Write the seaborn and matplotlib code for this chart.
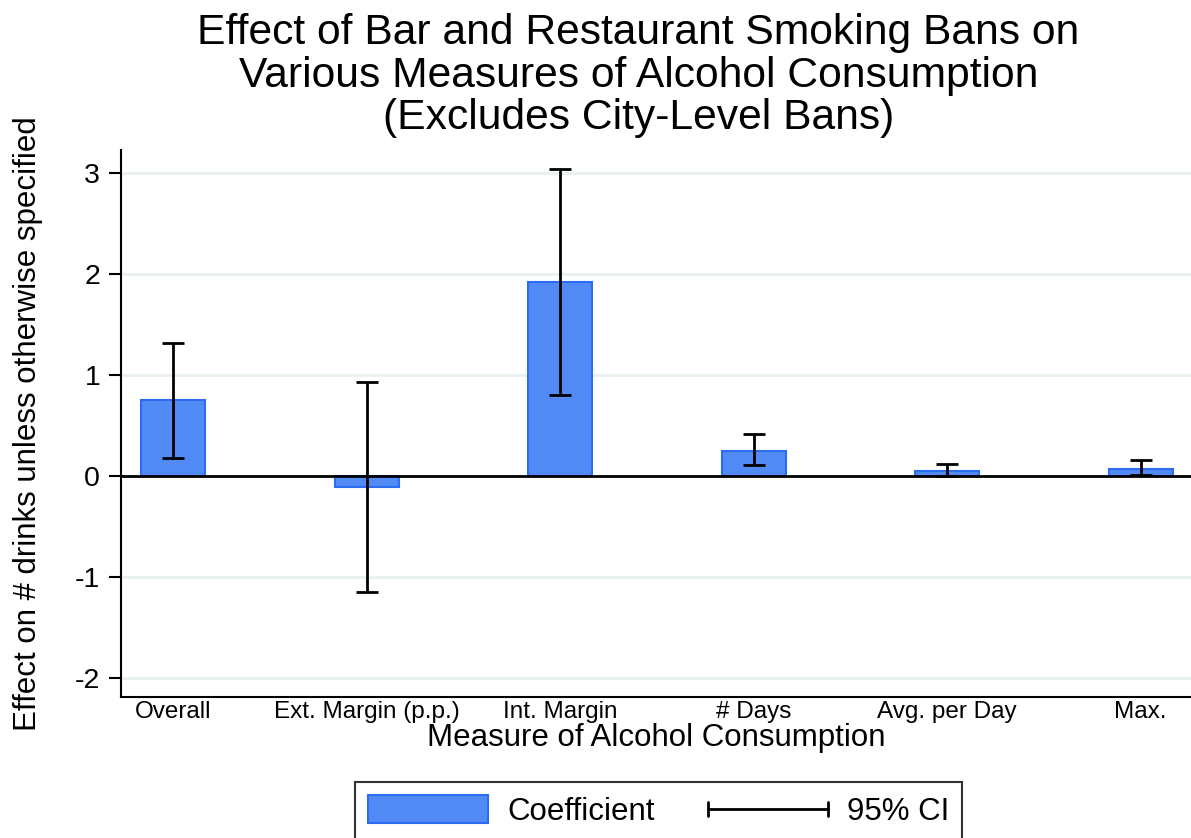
import matplotlib
matplotlib.use("Agg")
import matplotlib.pyplot as plt
import seaborn as sns
import pandas as pd
from matplotlib.patches import Rectangle
from matplotlib.lines import Line2D
from matplotlib.legend_handler import HandlerBase

# Estimates and 95% confidence bounds per outcome
measures = ["Overall", "Ext. Margin (p.p.)", "Int. Margin", "# Days", "Avg. per Day", "Max."]
coef = [0.75, -0.11, 1.92, 0.25, 0.05, 0.07]
ci_low = [0.18, -1.15, 0.80, 0.11, 0.00, 0.005]
ci_high = [1.32, 0.93, 3.04, 0.42, 0.12, 0.16]
yticks = [-2, -1, 0, 1, 2, 3]

df = pd.DataFrame({"measure": measures, "coef": coef, "lo": ci_low, "hi": ci_high})

sns.set_theme(style="white")
plt.rcParams["font.family"] = ["Liberation Sans", "DejaVu Sans"]
plt.rcParams["text.color"] = "black"
plt.rcParams["axes.labelcolor"] = "black"
plt.rcParams["xtick.color"] = "black"
plt.rcParams["ytick.color"] = "black"

bar_fill = "#528AF5"
bar_edge = "#2C6CF0"
grid_col = "#E9F0F2"

fig = plt.figure(figsize=(11.91, 8.38), dpi=100)
ax = fig.add_axes([121 / 1191, 1 - 697 / 838, 1 - 121 / 1191, (697 - 150) / 838])

sns.barplot(data=df, x="measure", y="coef", order=measures, color=bar_fill,
            width=0.33, saturation=1, edgecolor=bar_edge, linewidth=1.5,
            errorbar=None, ax=ax, zorder=3)

xpos = list(range(len(measures)))
ax.errorbar(xpos, df["coef"], yerr=[df["coef"] - df["lo"], df["hi"] - df["coef"]],
            fmt="none", ecolor="black", elinewidth=2, capsize=8, capthick=2, zorder=4)

ax.axhline(0, color="black", linewidth=2, zorder=3.5)
ax.set_xlim(-0.27, 5.26)
ax.set_ylim(-2.19, 3.23)
ax.set_yticks(yticks)
ax.set_yticklabels([str(v) for v in yticks], fontsize=20.5)
for v in yticks:
    ax.axhline(v, color=grid_col, linewidth=2, zorder=0)

ax.tick_params(axis="y", length=9, width=1.5, color="black", pad=6, left=True)
ax.tick_params(axis="x", length=0, labelsize=17.5, pad=3)
ax.set_xlabel("Measure of Alcohol Consumption", fontsize=22.5, labelpad=0)
ax.set_ylabel("Effect on # drinks unless otherwise specified", fontsize=22.5, labelpad=23)

for side in ["top", "right"]:
    ax.spines[side].set_visible(False)
for side in ["left", "bottom"]:
    ax.spines[side].set_color("black")
    ax.spines[side].set_linewidth(1.5)

fig.suptitle("Effect of Bar and Restaurant Smoking Bans on\nVarious Measures of Alcohol Consumption\n(Excludes City-Level Bans)",
             x=0.536, y=0.984, fontsize=30.7, linespacing=1.08, va="top")


class CIHandler(HandlerBase):
    def create_artists(self, legend, orig_handle, xdescent, ydescent, width, height, fontsize, trans):
        y = height / 2 - ydescent
        line = Line2D([-xdescent, width - xdescent], [y, y], color="black", lw=2, transform=trans)
        c1 = Line2D([-xdescent, -xdescent], [y - 5, y + 5], color="black", lw=2, transform=trans)
        c2 = Line2D([width - xdescent, width - xdescent], [y - 5, y + 5], color="black", lw=2, transform=trans)
        return [line, c1, c2]


bar_handle = Rectangle((0, 0), 1, 1, facecolor=bar_fill, edgecolor=bar_edge, linewidth=1.5)
ci_handle = Line2D([], [], color="black")
leg = fig.legend([bar_handle, ci_handle], ["Coefficient", "95% CI"],
                 handler_map={Line2D: CIHandler()},
                 loc="upper center", bbox_to_anchor=(658.5 / 1191, 1 - 782 / 838),
                 ncol=2, fontsize=22.5, frameon=True, fancybox=False,
                 handlelength=3.85, handleheight=1.0, columnspacing=1.7,
                 handletextpad=0.6, borderpad=0.42, borderaxespad=0,
                 edgecolor="black")
leg.get_frame().set_linewidth(1.5)

fig.savefig("out.png", dpi=100)
